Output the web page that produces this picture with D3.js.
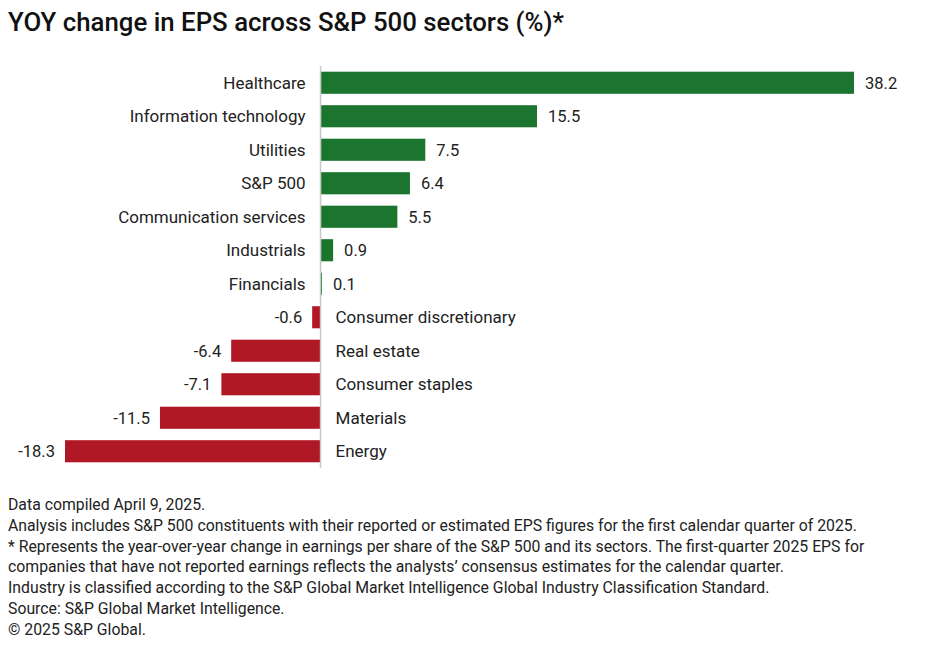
<!DOCTYPE html>
<html>
<head>
<meta charset="utf-8">
<script src="https://cdn.jsdelivr.net/npm/d3@7"></script>
<style>
  body { margin: 0; background: #fff; }
  svg text { font-family: "Roboto", "Noto Sans", sans-serif; }
</style>
</head>
<body>
<div id="chart"></div>
<script>
var sectors = ["Healthcare", "Information technology", "Utilities", "S&P 500",
  "Communication services", "Industrials", "Financials", "Consumer discretionary",
  "Real estate", "Consumer staples", "Materials", "Energy"];
var eps_change = [38.2, 15.5, 7.5, 6.4, 5.5, 0.9, 0.1, -0.6, -6.4, -7.1, -11.5, -18.3];
var value_labels = ["38.2", "15.5", "7.5", "6.4", "5.5", "0.9", "0.1", "-0.6", "-6.4", "-7.1", "-11.5", "-18.3"];

var title = "YOY change in EPS across S&P 500 sectors (%)*";
var notes = [
  "Data compiled April 9, 2025.",
  "Analysis includes S&P 500 constituents with their reported or estimated EPS figures for the first calendar quarter of 2025.",
  "* Represents the year-over-year change in earnings per share of the S&P 500 and its sectors. The first-quarter 2025 EPS for",
  "companies that have not reported earnings reflects the analysts\u2019 consensus estimates for the calendar quarter.",
  "Industry is classified according to the S&P Global Market Intelligence Global Industry Classification Standard.",
  "Source: S&P Global Market Intelligence.",
  "\u00a9 2025 S&P Global."
];

function barchart(d3_node) {
  var width = 936, height = 654;
  var svg = d3_node.append("svg")
    .attr("width", width)
    .attr("height", height);

  svg.append("text")
    .attr("x", 8).attr("y", 31)
    .attr("font-size", 25.8).attr("font-weight", 500)
    .attr("fill", "#111")
    .text(title);

  var x = d3.scaleLinear()
    .domain([-18.3, 38.2])
    .range([65, 854]);

  var y = d3.scaleBand()
    .domain(sectors)
    .range([66, 468])
    .paddingInner(0.34)
    .paddingOuter(0.17);

  var rows = sectors.map(function(s, i) { return {name: s, v: eps_change[i], lab: value_labels[i]}; });

  svg.selectAll("rect.bar").data(rows).enter().append("rect")
    .attr("class", "bar")
    .attr("x", function(d) { return x(Math.min(0, d.v)); })
    .attr("y", function(d) { return y(d.name); })
    .attr("width", function(d) { return Math.max(1, Math.abs(x(d.v) - x(0))); })
    .attr("height", y.bandwidth())
    .attr("fill", function(d) { return d.v >= 0 ? "#1b752e" : "#b01826"; });

  // zero line
  svg.append("line")
    .attr("x1", x(0)).attr("x2", x(0))
    .attr("y1", 66).attr("y2", 468)
    .attr("stroke", "#c8c8c8").attr("stroke-width", 1.5);

  // category labels
  svg.selectAll("text.cat").data(rows).enter().append("text")
    .attr("class", "cat")
    .attr("x", function(d) { return d.v >= 0 ? x(0) - 15 : x(0) + 15; })
    .attr("y", function(d) { return y(d.name) + y.bandwidth() / 2; })
    .attr("dy", "0.35em")
    .attr("text-anchor", function(d) { return d.v >= 0 ? "end" : "start"; })
    .attr("font-size", 17)
    .attr("fill", "#222")
    .text(function(d) { return d.name; });

  // value labels
  svg.selectAll("text.val").data(rows).enter().append("text")
    .attr("class", "val")
    .attr("x", function(d) { return d.v >= 0 ? x(d.v) + 11 : x(d.v) - 10; })
    .attr("y", function(d) { return y(d.name) + y.bandwidth() / 2; })
    .attr("dy", "0.35em")
    .attr("text-anchor", function(d) { return d.v >= 0 ? "start" : "end"; })
    .attr("font-size", 16.5)
    .attr("fill", "#222")
    .text(function(d) { return d.lab; });

  svg.selectAll("text.note").data(notes).enter().append("text")
    .attr("class", "note")
    .attr("x", 8)
    .attr("y", function(d, i) { return 510 + i * 20.8; })
    .attr("font-size", 15.8)
    .attr("fill", "#222")
    .text(function(d) { return d; });
}

barchart(d3.select("#chart"));
</script>
</body>
</html>
